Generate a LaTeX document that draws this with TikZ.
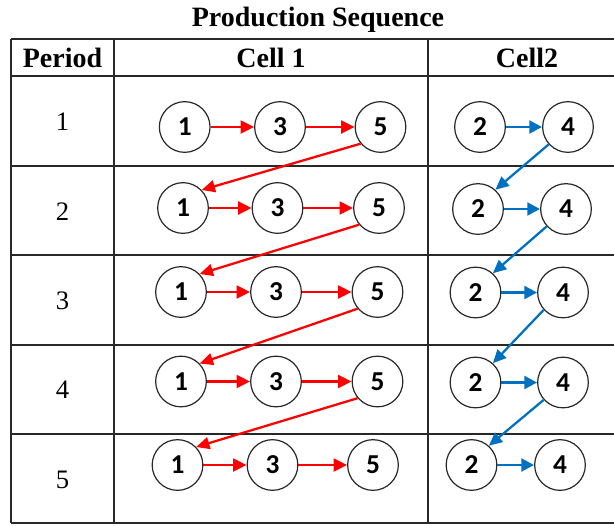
\documentclass[tikz,border=0pt]{standalone}
\usepackage{fontspec}
\setmainfont{Liberation Serif}
\newfontfamily\calib{Carlito}
\usetikzlibrary{arrows.meta}
\definecolor{arred}{RGB}{255,0,0}
\definecolor{arblue}{RGB}{0,112,192}
\definecolor{gridc}{RGB}{40,40,40}
\tikzset{
  grid line/.style={draw=gridc, line width=1.5pt},
  job/.style={circle, draw=gridc, line width=0.9pt, minimum size=38pt, inner sep=0pt,
    font=\calib\bfseries\fontsize{20.5}{20.5}\selectfont},
  headtxt/.style={font=\bfseries\fontsize{21}{21}\selectfont, anchor=base},
  pertxt/.style={font=\fontsize{20}{20}\selectfont, anchor=base},
  redarr/.style={draw=arred, line width=2.1pt, -{Triangle[length=10pt,width=9.5pt]}, arred},
  redarrd/.style={draw=arred, line width=1.7pt, -{Triangle[length=10pt,width=9pt]}, arred},
  bluearr/.style={draw=arblue, line width=2.1pt, -{Triangle[length=9.5pt,width=9.5pt]}, arblue},
  bluearrd/.style={draw=arblue, line width=1.7pt, -{Triangle[length=10pt,width=9pt]}, arblue},
}
\begin{document}
\begin{tikzpicture}[x=0.75pt,y=-0.75pt]
\useasboundingbox (0,0) rectangle (614,525);
\fill[white] (0,0) rectangle (614,525);
% title
\node[headtxt] (title) at (318,26.5) {Production Sequence};
% table lines
\foreach \yy in {38.5,76,166,255,345,434,523} \draw[grid line] (11,\yy) -- (620,\yy);
\foreach \xx in {11,114,428} \draw[grid line] (\xx,38.5) -- (\xx,523);
% headers
\node[headtxt] (hp) at (62.5,67) {Period};
\node[headtxt] (hc1) at (271,67) {Cell 1};
\node[headtxt] (hc2) at (527,67) {Cell2};
% period labels
\node[pertxt] (p1) at (62.5,130) {1};
\node[pertxt] (p2) at (62.5,220) {2};
\node[pertxt] (p3) at (62.5,309) {3};
\node[pertxt] (p4) at (62.5,398.5) {4};
\node[pertxt] (p5) at (62.5,488) {5};
% circles
\node[job] (a1) at (184.7,127) {1};
\node[job] (a3) at (280,127) {3};
\node[job] (a5) at (380.5,127) {5};
\node[job] (a2) at (480,127) {2};
\node[job] (a4) at (568,127) {4};
\node[job] (b1) at (183,208) {1};
\node[job] (b3) at (277.5,208) {3};
\node[job] (b5) at (379,208) {5};
\node[job] (b2) at (478,209) {2};
\node[job] (b4) at (566,209) {4};
\node[job] (c1) at (181,292) {1};
\node[job] (c3) at (276,292) {3};
\node[job] (c5) at (377.5,292) {5};
\node[job] (c2) at (475.5,292.5) {2};
\node[job] (c4) at (563,292.5) {4};
\node[job] (d1) at (181,381.5) {1};
\node[job] (d3) at (276,381.5) {3};
\node[job] (d5) at (377.5,381.5) {5};
\node[job] (d2) at (475.5,382.5) {2};
\node[job] (d4) at (563,382.5) {4};
\node[job] (e1) at (177.5,465) {1};
\node[job] (e3) at (272.5,465) {3};
\node[job] (e5) at (373,465) {5};
\node[job] (e2) at (471.5,465) {2};
\node[job] (e4) at (560,465) {4};
% horizontal arrows
\foreach \r in {a,b,c,d,e} {
  \draw[redarr] (\r1) -- (\r3);
  \draw[redarr] (\r3) -- (\r5);
  \draw[bluearr] (\r2) -- (\r4);
}
% diagonal arrows
\draw[redarrd] (a5.220) -- (b1.44);
\draw[redarrd] (b5.220) -- (c1.44);
\draw[redarrd] (c5.220) -- (d1.44);
\draw[redarrd] (d5.220) -- (e1.44);
\draw[bluearrd] (a4.222) -- (b2.48);
\draw[bluearrd] (b4.222) -- (c2.48);
\draw[bluearrd] (c4.222) -- (d2.48);
\draw[bluearrd] (d4.222) -- (e2.48);
\end{tikzpicture}
\end{document}
